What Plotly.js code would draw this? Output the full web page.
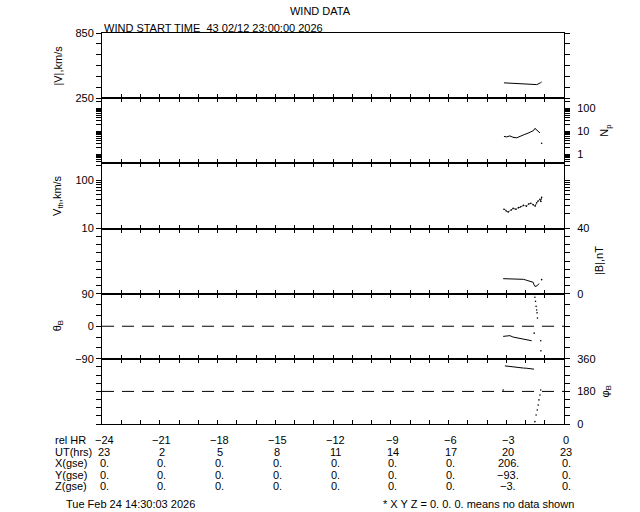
<!DOCTYPE html>
<html>
<head>
<meta charset="utf-8">
<script src="https://cdn.plot.ly/plotly-3.0.1.min.js"></script>
<style>html,body{margin:0;padding:0;background:#fff;}#chart{width:640px;height:512px;}</style>
</head>
<body>
<div id="chart"></div>
<script>
// ---- table / tick labels ----
const relHr = [-24, -21, -18, -15, -12, -9, -6, -3, 0];
const relHrText = ['\u221224', '\u221221', '\u221218', '\u221215', '\u221212', '\u22129', '\u22126', '\u22123', '0'];
const utHrs = ['23', '2', '5', '8', '11', '14', '17', '20', '23'];
const xGse = ['0.', '0.', '0.', '0.', '0.', '0.', '0.', '206.', '0.'];
const yGse = ['0.', '0.', '0.', '0.', '0.', '0.', '0.', '\u221293.', '0.'];
const zGse = ['0.', '0.', '0.', '0.', '0.', '0.', '0.', '\u22123.', '0.'];
const rowNames = ['rel HR', 'UT(hrs)', 'X(gse)', 'Y(gse)', 'Z(gse)'];

// ---- series ----
const vTime = [-3.12, -3.0, -2.9, -2.7, -2.5, -2.3, -2.1, -1.94, -1.8, -1.65, -1.5, -1.42, -1.35, -1.28, -1.22, -1.16];
const vSpeed = [391, 390, 386, 385, 385, 384, 383, 379, 374, 373, 373, 375, 380, 384, 392, 400];

const npTime = [-3.12, -2.98, -2.81, -2.65, -2.46, -2.32, -2.20, -2.03, -1.87, -1.68, -1.58, -1.51, -1.45, -1.39, -1.25];
const npVal = [6.0, 5.7, 6.3, 5.5, 5.2, 5.7, 6.3, 7.4, 8.3, 9.4, 10.8, 13.5, 12, 10.5, 8.5];
const npPtTime = [-1.16];
const npPtVal = [3.0];

const vthTime = [-3.12, -3.0, -2.9, -2.75, -2.64, -2.5, -2.37, -2.25, -2.1, -1.95, -1.84, -1.72, -1.6, -1.5, -1.42, -1.35, -1.25, -1.2, -1.16];
const vthVal = [25, 23, 22, 24, 26, 25, 27, 28, 30, 29, 32, 33, 31, 29, 34, 37, 40, 36, 44];

const bTime = [-3.16, -2.9, -2.64, -2.4, -2.29, -2.1, -1.94, -1.8, -1.68, -1.6, -1.56, -1.51, -1.45, -1.39, -1.30];
const bVal = [9.2, 9.1, 9.0, 9.1, 9.2, 8.8, 8.2, 7.9, 7.6, 7.0, 5.5, 4.5, 4.6, 4.9, 6.2];
const bPtTime = [-1.16];
const bPtVal = [8.6];

const thTime = [-3.16, -2.95, -2.81, -2.64, -2.45, -2.29, -2.1, -1.94, -1.8, -1.68];
const thVal = [-28, -27, -26, -30, -32, -34, -35, -37, -39, -40];
const thPtTime = [-1.55, -1.53, -1.51, -1.48, -1.45, -1.42, -1.40, -1.38, -1.21, -1.20];
const thPtVal = [-19, 88, 80, 69, 55, 45, 37, 23, -40, -68];

const phTime = [-3.07, -2.81, -2.64, -2.45, -2.29, -2.1, -1.94, -1.8, -1.68, -1.56];
const phVal = [321, 317, 314, 312, 310, 309, 308, 307, 306, 303];
const phPtTime = [-3.16, -1.21, -1.25, -1.30, -1.34, -1.39, -1.45, -1.51];
const phPtVal = [188, 188, 160, 133, 105, 77, 50, 13];

// ---- axis tick values ----
const vTicks = [250, 350, 450, 550, 650, 750, 850];
const vTickText = ['250', '', '', '', '', '', '850'];
const npTicks = [0.5, 0.6, 0.7, 0.8, 0.9, 1, 2, 3, 4, 5, 6, 7, 8, 9, 10, 20, 30, 40, 50, 60, 70, 80, 90, 100, 200];
const npTickText = ['', '', '', '', '', '1', '', '', '', '', '', '', '', '', '10', '', '', '', '', '', '', '', '', '100', ''];
const vthTicks = [10, 20, 30, 40, 50, 60, 70, 80, 90, 100, 200];
const vthTickText = ['10', '', '', '', '', '', '', '', '', '100', ''];
const bTicks = [0, 5, 10, 15, 20, 25, 30, 35, 40];
const bTickText = ['0', '', '', '', '', '', '', '', '40'];
const thTicks = [-90, -60, -30, 0, 30, 60, 90];
const thTickText = ['\u221290', '', '', '0', '', '', '90'];
const phTicks = [0, 45, 90, 135, 180, 225, 270, 315, 360];
const phTickText = ['0', '', '', '', '180', '', '', '', '360'];

const FONT = 'Liberation Sans, Arial, sans-serif';
const ax = n => (n === 1 ? '' : String(n));
const line = (x, y, n) => ({x: x, y: y, xaxis: 'x' + ax(n), yaxis: 'y' + ax(n), type: 'scatter', mode: 'lines', line: {color: '#000', width: 1}, hoverinfo: 'skip'});
const dots = (x, y, n) => ({x: x, y: y, xaxis: 'x' + ax(n), yaxis: 'y' + ax(n), type: 'scatter', mode: 'markers', marker: {color: '#000', size: 1.6}, hoverinfo: 'skip'});

const data = [
  line(vTime, vSpeed, 1),
  line(npTime, npVal, 2), dots(npPtTime, npPtVal, 2),
  Object.assign(line(vthTime, vthVal, 3), {line: {color: '#000', width: 0.8, dash: '3px,1px'}}), dots(vthTime, vthVal, 3),
  line(bTime, bVal, 4), dots(bPtTime, bPtVal, 4),
  line(thTime, thVal, 5), dots(thPtTime, thPtVal, 5),
  line(phTime, phVal, 6), dots(phPtTime, phPtVal, 6)
];

const layout = {
  width: 640, height: 512,
  margin: {l: 102, r: 76, t: 33, b: 88, pad: 0},
  paper_bgcolor: '#fff', plot_bgcolor: '#fff',
  showlegend: false,
  font: {family: FONT, size: 11, color: '#000'},
  title: {text: 'WIND DATA', x: 0.5, xanchor: 'center', y: 0.978, yanchor: 'middle', font: {family: FONT, size: 11, color: '#000'}},
  shapes: [
    {type: 'line', xref: 'x5', yref: 'y5', x0: -24, x1: 0, y0: 0, y1: 0, line: {color: '#000', width: 1, dash: '12px,8px'}},
    {type: 'line', xref: 'x6', yref: 'y6', x0: -24, x1: 0, y0: 180, y1: 180, line: {color: '#000', width: 1, dash: '12px,8px'}}
  ],
  annotations: []
};

const yDefs = [
  {tickvals: vTicks, ticktext: vTickText, range: [250, 850], side: 'left'},
  {tickvals: npTicks, ticktext: npTickText, range: [-0.4, 2.45], side: 'right', type: 'log', ticklabelstandoff: 5},
  {tickvals: vthTicks, ticktext: vthTickText, range: [1, 2.345], side: 'left', type: 'log'},
  {tickvals: bTicks, ticktext: bTickText, range: [0, 40], side: 'right', ticklabelstandoff: 5},
  {tickvals: thTicks, ticktext: thTickText, range: [-90, 90], side: 'left'},
  {tickvals: phTicks, ticktext: phTickText, range: [0, 360], side: 'right', ticklabelstandoff: 5}
];

for (let i = 1; i <= 6; i++) {
  const s = ax(i);
  const top = 1 - (i - 1) / 6, bot = 1 - i / 6;
  layout['xaxis' + s] = {
    domain: [0, 1], anchor: 'y' + s, range: [-24, 0], dtick: 1, tick0: 0,
    ticks: 'inside', ticklen: 4, tickcolor: '#000', showticklabels: false,
    showline: true, linecolor: '#000', linewidth: 1, mirror: i === 1 ? true : 'ticks',
    showgrid: false, zeroline: false, fixedrange: true
  };
  if (i > 1) layout['xaxis' + s].matches = 'x';
  const d = yDefs[i - 1];
  layout['yaxis' + s] = Object.assign({
    domain: [bot, top], anchor: 'x' + s, tickmode: 'array',
    ticks: 'outside', ticklen: 5, tickcolor: '#000',
    showline: true, linecolor: '#000', linewidth: 1, mirror: 'ticks',
    showgrid: false, zeroline: false, fixedrange: true,
    tickfont: {family: FONT, size: 11, color: '#000'}
  }, d);
}

// y titles
const yTitles = [
  {text: '|V|,km/s', px: 58},
  {text: 'N<sub>p</sub>', px: 605},
  {text: 'V<sub>th</sub>,km/s', px: 58},
  {text: '|B|,nT', px: 599},
  {text: '\u03b8<sub>B</sub>', px: 58},
  {text: '\u03c6<sub>B</sub>', px: 606}
];
yTitles.forEach((t, k) => {
  layout.annotations.push({
    text: t.text, xref: 'paper', yref: 'paper', x: (t.px - 102) / 462, y: 1 - (k + 0.5) / 6,
    xanchor: 'center', yanchor: 'middle', textangle: -90, showarrow: false,
    font: {family: FONT, size: 11, color: '#000'}
  });
});

// header
const py = p => (424 - p) / 391;
layout.annotations.push({
  text: 'WIND START TIME  43 02/12 23:00:00 2026', xref: 'paper', yref: 'paper', x: 0, y: 1,
  xanchor: 'left', yanchor: 'bottom', showarrow: false, yshift: -3,
  font: {family: FONT, size: 11, color: '#000'}
});

// bottom table
const rows = [relHrText, utHrs, xGse, yGse, zGse];
const rowY = [440, 451.5, 463, 474.5, 486];
rows.forEach((r, ri) => {
  layout.annotations.push({
    text: rowNames[ri], xref: 'paper', yref: 'paper', x: (53 - 102) / 462, y: py(rowY[ri]),
    xanchor: 'left', yanchor: 'middle', showarrow: false, font: {family: FONT, size: 11, color: '#000'}
  });
  r.forEach((txt, ci) => {
    layout.annotations.push({
      text: txt, xref: 'x6', yref: 'paper', x: relHr[ci], y: py(rowY[ri]), xshift: 2,
      xanchor: 'center', yanchor: 'middle', showarrow: false, font: {family: FONT, size: 11, color: '#000'}
    });
  });
});

// footer
layout.annotations.push({
  text: 'Tue Feb 24 14:30:03 2026', xref: 'paper', yref: 'paper', x: (64 - 102) / 462, y: py(504),
  xanchor: 'left', yanchor: 'middle', showarrow: false, font: {family: FONT, size: 11, color: '#000'}
});
layout.annotations.push({
  text: '* X Y Z = 0. 0. 0. means no data shown', xref: 'paper', yref: 'paper', x: (576 - 102) / 462, y: py(504),
  xanchor: 'right', yanchor: 'middle', showarrow: false, font: {family: FONT, size: 11, color: '#000'}
});

Plotly.newPlot('chart', data, layout, {staticPlot: true, displayModeBar: false});
</script>
</body>
</html>
